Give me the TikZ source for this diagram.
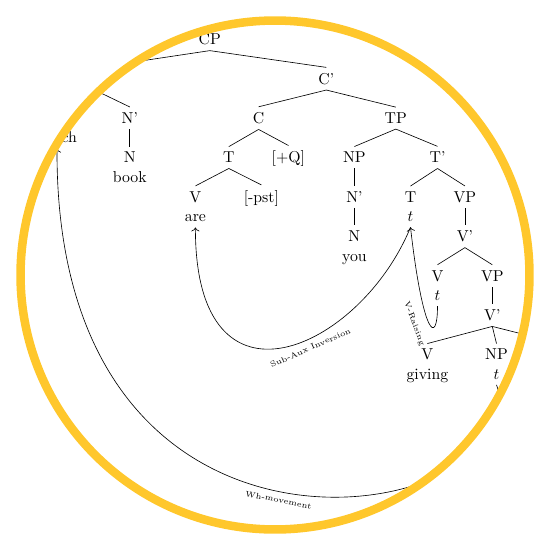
\documentclass[tikz,border=0pt]{standalone}
\usetikzlibrary{arrows.meta, calc}
\definecolor{ringyellow}{HTML}{FFC72C}

\begin{document}
\begin{tikzpicture}[
    x=0.02226cm, y=-0.02226cm,
    cat/.style={anchor=base},
    word/.style={anchor=base, yshift=-12.3pt},
    move/.style={->},
    mlabel/.style={font=\tiny, sloped, below},
    >={To}
  ]
  \useasboundingbox (0,0) rectangle (550,550);

  \begin{scope}
    \clip (275,275) circle[radius=5.665cm];

    % Rows of categories
    \node[cat] (CP) at (209.8,44.7) {CP};
    \node[cat] (Cbar) at (326.3,84.1) {C'};
    \coordinate (whNPn) at (93.4,68.1);
    \coordinate (whNPs) at (93.4,89.4);

    \coordinate (whD) at (57,107.5);
    \node[word] (which) at (57,123.5) {which};
    \node[cat] (whNbar) at (129.8,123.5) {N'};
    \node[cat] (C) at (258.6,123.5) {C};
    \node[cat] (TP) at (395.8,123.5) {TP};

    \node[cat] (whN) at (129.8,162.9) {N};
    \node[word] (book) at (whN.base) {book};
    \node[cat] (Tc) at (228.8,162.9) {T};
    \node[cat] (Q) at (288.4,162.9) {[+Q]};
    \node[cat] (sNP) at (354.4,162.9) {NP};
    \node[cat] (Tbar) at (437.5,162.9) {T'};

    \node[cat] (Vc) at (195.4,202.3) {V};
    \node[word] (are) at (Vc.base) {are};
    \node[cat] (pst) at (261.4,202.3) {[-pst]};
    \node[cat] (sNbar) at (354.4,202.3) {N'};
    \node[cat] (Tt) at (410.5,202.3) {T};
    \node[word] (tT) at (Tt.base) {$t$};
    \node[cat] (VP) at (464.9,202.3) {VP};

    \node[cat] (sN) at (354.4,241.7) {N};
    \node[word] (you) at (sN.base) {you};
    \node[cat] (Vbar) at (464.9,241.7) {V'};

    \node[cat] (Vl) at (437.5,281.1) {V};
    \node[word] (tV) at (Vl.base) {$t$};
    \node[cat] (VPl) at (492.3,281.1) {VP};

    \node[cat] (Vbarl) at (492.3,320.5) {V'};

    \node[cat] (Vg) at (427.4,359.9) {V};
    \node[word] (giving) at (Vg.base) {giving};
    \node[cat] (oNP) at (496.5,359.9) {NP};
    \node[word] (tObj) at (oNP.base) {$t$};
    \coordinate (PPn) at (562,344);

    % Branches
    \foreach \a/\b in {CP/Cbar, Cbar/C, Cbar/TP, C/Tc, C/Q, Tc/Vc, Tc/pst,
                       TP/sNP, TP/Tbar, sNP/sNbar, sNbar/sN, Tbar/Tt, Tbar/VP,
                       VP/Vbar, Vbar/Vl, Vbar/VPl, VPl/Vbarl, Vbarl/Vg,
                       Vbarl/oNP, whNbar/whN} {
      \draw (\a.south) -- (\b.north);
    }
    \draw (CP.south) -- (whNPn);
    \draw (whNPs) -- (whD);
    \draw (whNPs) -- (whNbar.north);
    \draw (Vbarl.south) -- (PPn);

    % Movement arrows
    \draw[move] (tT.south) .. controls (360,350) and (195,425) .. (are.south)
      node[mlabel, pos=0.42] {Sub-Aux Inversion};
    \draw[move] (tV.south) .. controls (437.5,345.8) and (423,337) .. (tT.south)
      node[mlabel, below=3pt, pos=0.55] {V-Raising};
    \draw[move] (tObj.south) .. controls (545,520) and (55,620) .. (which.south)
      node[mlabel, pos=0.52] {Wh-movement};
  \end{scope}

  \draw[ringyellow, line width=5.4pt] (275,275) circle[radius=5.665cm];
\end{tikzpicture}
\end{document}
